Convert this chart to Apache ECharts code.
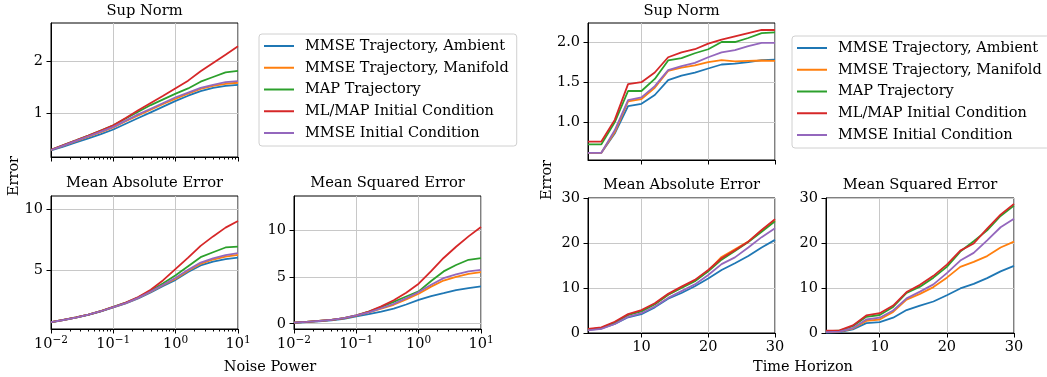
<!DOCTYPE html>
<html><head><meta charset="utf-8">
<script src="https://cdn.jsdelivr.net/npm/echarts@6/dist/echarts.min.js"></script>
<style>html,body{margin:0;padding:0;background:#fff}#c{width:1047px;height:377px}</style>
</head><body><div id="c"></div><script>
// ---------- DATA ----------
const seriesNames = ['MMSE Trajectory, Ambient','MMSE Trajectory, Manifold','MAP Trajectory','ML/MAP Initial Condition','MMSE Initial Condition'];
const colors = ['#1f77b4','#ff7f0e','#2ca02c','#d62728','#9467bd'];

const noisePower = [0.01,0.0158,0.0251,0.0398,0.0631,0.1,0.158,0.251,0.398,0.631,1,1.585,2.512,3.981,6.31,10];
const timeHorizon = [2,4,6,8,10,12,14,16,18,20,22,24,26,28,30];

// order of each list: Ambient, Manifold, MAP Traj, ML/MAP IC, MMSE IC
const noiseSupNorm = [
  [0.275,0.35,0.43,0.51,0.59,0.68,0.79,0.90,1.01,1.12,1.23,1.33,1.42,1.48,1.52,1.54],
  [0.285,0.37,0.455,0.54,0.63,0.72,0.84,0.95,1.06,1.17,1.275,1.37,1.46,1.52,1.56,1.58],
  [0.29,0.38,0.47,0.56,0.66,0.76,0.89,1.02,1.15,1.26,1.37,1.47,1.60,1.69,1.78,1.81],
  [0.29,0.38,0.47,0.56,0.66,0.76,0.90,1.05,1.19,1.33,1.475,1.62,1.80,1.96,2.12,2.28],
  [0.285,0.37,0.46,0.55,0.64,0.73,0.85,0.97,1.08,1.19,1.30,1.39,1.48,1.54,1.59,1.61]
];
const noiseMAE = [
  [0.69,0.87,1.07,1.30,1.58,1.91,2.25,2.66,3.15,3.68,4.18,4.82,5.36,5.68,5.88,6.0],
  [0.70,0.88,1.08,1.32,1.60,1.93,2.27,2.69,3.20,3.75,4.28,4.92,5.5,5.85,6.08,6.23],
  [0.71,0.89,1.09,1.33,1.61,1.95,2.30,2.74,3.28,3.90,4.55,5.30,6.04,6.45,6.84,6.91],
  [0.71,0.89,1.09,1.33,1.61,1.95,2.31,2.76,3.36,4.15,5.08,6.0,6.97,7.75,8.47,9.02],
  [0.70,0.88,1.08,1.32,1.60,1.93,2.27,2.70,3.22,3.78,4.35,5.0,5.6,5.95,6.22,6.37]
];
const noiseMSE = [
  [0.10,0.17,0.25,0.36,0.52,0.78,1.02,1.30,1.60,2.05,2.55,2.95,3.26,3.58,3.79,3.97],
  [0.12,0.20,0.29,0.41,0.58,0.87,1.20,1.60,2.02,2.60,3.19,3.95,4.60,5.00,5.32,5.49],
  [0.12,0.20,0.30,0.42,0.60,0.90,1.28,1.78,2.32,2.90,3.44,4.55,5.57,6.25,6.81,6.99],
  [0.12,0.20,0.30,0.42,0.60,0.90,1.30,1.85,2.50,3.30,4.26,5.60,7.00,8.20,9.30,10.3],
  [0.12,0.20,0.29,0.41,0.59,0.88,1.22,1.65,2.12,2.72,3.37,4.15,4.86,5.25,5.57,5.74]
];
const timeSupNorm = [
  [0.62,0.62,0.86,1.20,1.23,1.34,1.525,1.58,1.62,1.67,1.72,1.73,1.75,1.775,1.78],
  [0.62,0.62,0.875,1.26,1.29,1.43,1.64,1.68,1.71,1.75,1.775,1.76,1.765,1.77,1.765],
  [0.725,0.725,1.0,1.39,1.39,1.54,1.77,1.80,1.86,1.91,2.0,2.0,2.05,2.11,2.12],
  [0.76,0.76,1.03,1.475,1.50,1.62,1.81,1.87,1.91,1.98,2.03,2.07,2.11,2.15,2.15],
  [0.62,0.62,0.90,1.275,1.31,1.45,1.65,1.70,1.74,1.81,1.87,1.90,1.95,1.99,1.99]
];
const timeMAE = [
  [0.7,1.0,2.0,3.5,4.2,5.7,7.6,8.9,10.4,12.1,14.0,15.5,17.1,19.0,20.7],
  [0.8,1.1,2.3,4.0,4.9,6.4,8.5,10.1,11.6,13.8,16.9,18.6,20.3,22.8,25.0],
  [0.8,1.1,2.3,4.0,4.8,6.4,8.5,10.0,11.5,13.7,16.3,18.2,20.2,22.5,24.8],
  [0.9,1.26,2.5,4.2,5.1,6.6,8.7,10.3,11.8,14.0,16.6,18.4,20.3,22.9,25.3],
  [0.6,0.9,2.0,3.6,4.4,5.9,7.8,9.3,10.8,12.9,15.3,16.8,19.0,21.3,23.3]
];
const timeMSE = [
  [0.1,0.2,0.8,2.2,2.4,3.4,5.1,6.1,7.0,8.4,9.9,10.9,12.2,13.7,14.9],
  [0.2,0.3,1.0,2.7,3.0,4.7,7.4,8.7,10.2,12.3,14.7,15.8,17.1,19.0,20.3],
  [0.4,0.5,1.5,3.6,4.0,5.8,8.9,10.3,12.3,14.7,18.1,20.4,22.8,26.0,28.3],
  [0.5,0.6,1.7,3.9,4.4,6.1,9.1,10.7,12.7,15.2,18.3,19.9,23.2,26.3,28.7],
  [0.2,0.3,1.1,3.0,3.4,5.0,7.7,9.2,10.8,13.3,16.1,17.8,20.6,23.5,25.4]
];

// tick labels
const logMajorTicks = [0.01,0.1,1,10];
const logMinorTicks = [0.02,0.03,0.04,0.05,0.06,0.07,0.08,0.09,0.2,0.3,0.4,0.5,0.6,0.7,0.8,0.9,2,3,4,5,6,7,8,9];
const timeTicks = [10,20,30];
const noiseSupTicks = [1,2];
const noiseMAETicks = [5,10];
const noiseMSETicks = [0,5,10];
const timeSupTicks = [1.0,1.5,2.0];
const timeErrTicks = [0,10,20,30];

// ---------- CHART ----------
const FONT = 'DejaVu Serif';
const FS = 14.5;
const TFS = 14.7;
const panels = [
  {grid:{left:51,top:23,width:187,height:134}, x:noisePower, data:noiseSupNorm, log:true, xlabels:false, y:{min:0.15,max:2.73,ticks:noiseSupTicks,fmt:v=>String(v)}},
  {grid:{left:51,top:196,width:187,height:133}, x:noisePower, data:noiseMAE, log:true, xlabels:true, y:{min:0.14,max:11.07,ticks:noiseMAETicks,fmt:v=>String(v)}},
  {grid:{left:294,top:196,width:187,height:133}, x:noisePower, data:noiseMSE, log:true, xlabels:true, y:{min:-0.56,max:13.6,ticks:noiseMSETicks,fmt:v=>String(v)}},
  {grid:{left:588,top:23,width:187,height:137}, x:timeHorizon, data:timeSupNorm, log:false, xlabels:false, y:{min:0.53,max:2.237,ticks:timeSupTicks,fmt:v=>v.toFixed(1)}},
  {grid:{left:588,top:198,width:187,height:135}, x:timeHorizon, data:timeMAE, log:false, xlabels:true, y:{min:0,max:30,ticks:timeErrTicks,fmt:v=>String(v)}},
  {grid:{left:826,top:198,width:188,height:135}, x:timeHorizon, data:timeMSE, log:false, xlabels:true, y:{min:0,max:30,ticks:timeErrTicks,fmt:v=>String(v)}}
];

const grid=[], xAxis=[], yAxis=[], series=[];
const splitLine = {show:true, lineStyle:{color:'#c8c8c8', width:1}};
function logFmt(v){
  const e = Math.round(Math.log10(v));
  return '10{sup|' + (e<0 ? '−'+(-e) : String(e)) + '}';
}
panels.forEach((p,gi)=>{
  grid.push(Object.assign({show:true, borderColor:'#000', borderWidth:1, containLabel:false}, p.grid));
  const xi = xAxis.length;
  if (p.log) {
    xAxis.push({
      type:'log', logBase:10, gridIndex:gi, min:0.01, max:10, position:'bottom',
      axisLine:{show:true, onZero:false, lineStyle:{color:'#000', width:1}},
      axisTick:{show:true, length:4.5, lineStyle:{color:'#000'}, customValues:logMajorTicks},
      axisLabel:{show:p.xlabels, customValues:logMajorTicks, formatter:logFmt, color:'#000', fontFamily:FONT, fontSize:FS, margin:6, lineHeight:18,
        rich:{sup:{fontSize:10.5, fontFamily:FONT, color:'#000', verticalAlign:'top', lineHeight:11}}},
      splitLine:splitLine, minorTick:{show:false}
    });
    xAxis.push({
      type:'log', logBase:10, gridIndex:gi, min:0.01, max:10, position:'bottom',
      axisLine:{show:false, onZero:false}, axisLabel:{show:false}, splitLine:{show:false},
      axisTick:{show:true, length:2.5, lineStyle:{color:'#000'}, customValues:logMinorTicks}
    });
  } else {
    xAxis.push({
      type:'value', gridIndex:gi, min:2, max:30, position:'bottom',
      axisLine:{show:true, onZero:false, lineStyle:{color:'#000', width:1}},
      axisTick:{show:true, length:4.5, lineStyle:{color:'#000'}, customValues:timeTicks},
      axisLabel:{show:p.xlabels, customValues:timeTicks, color:'#000', fontFamily:FONT, fontSize:FS, margin:7},
      splitLine:splitLine
    });
  }
  yAxis.push({
    type:'value', gridIndex:gi, min:p.y.min, max:p.y.max, position:'left',
    axisLine:{show:true, onZero:false, lineStyle:{color:'#000', width:1}},
    axisTick:{show:true, length:4.5, lineStyle:{color:'#000'}, customValues:p.y.ticks},
    axisLabel:{show:true, customValues:p.y.ticks, formatter:p.y.fmt, color:'#000', fontFamily:FONT, fontSize:FS, margin:8},
    splitLine:splitLine
  });
  p.data.forEach((arr,si)=>{
    series.push({
      type:'line', name:seriesNames[si], xAxisIndex:xi, yAxisIndex:gi,
      data:p.x.map((xv,i)=>[xv, arr[i]]),
      symbol:'none', showSymbol:false, clip:true,
      lineStyle:{width:1.8, color:colors[si]}, itemStyle:{color:colors[si]},
      emphasis:{disabled:true}, z:2+si
    });
  });
});

function legendAt(left, top){
  return {
    orient:'vertical', left:left, top:top, icon:'rect', itemWidth:30, itemHeight:2,
    itemGap:4.75, padding:[3.5,8,4.5,5], borderColor:'#d0d0d0', borderWidth:1, borderRadius:3,
    backgroundColor:'#fff', selectedMode:false,
    textStyle:{fontFamily:FONT, fontSize:FS, color:'#000', lineHeight:17, padding:[0,0,0,6]},
    data:seriesNames
  };
}

function txt(text, x, y, size, rot){
  return {type:'text', x:x, y:y, rotation:rot||0, silent:true,
    style:{text:text, font:size+'px "'+FONT+'"', fill:'#000', align:'center', verticalAlign:'middle'}};
}

const chart = echarts.init(document.getElementById('c'), null, {renderer:'canvas'});
chart.setOption({
  animation:false,
  backgroundColor:'#fff',
  color:colors,
  grid:grid, xAxis:xAxis, yAxis:yAxis, series:series,
  legend:[legendAt(259,34), legendAt(792,36)],
  graphic:[
    txt('Sup Norm',144.5,11.5,TFS),
    txt('Mean Absolute Error',144.5,183.5,TFS),
    txt('Mean Squared Error',387.5,183.5,TFS),
    txt('Sup Norm',681.5,11.5,TFS),
    txt('Mean Absolute Error',681.5,185,TFS),
    txt('Mean Squared Error',920,185,TFS),
    txt('Noise Power',270,367,FS),
    txt('Time Horizon',803,367,FS),
    txt('Error',14,176,FS,Math.PI/2),
    txt('Error',547,180,FS,Math.PI/2)
  ]
});
</script></body></html>
